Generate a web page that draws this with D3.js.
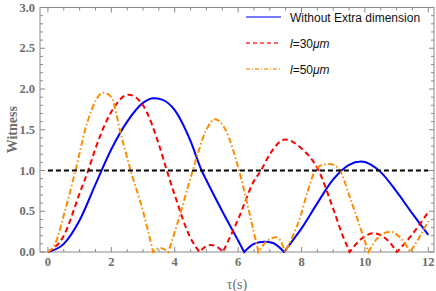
<!DOCTYPE html>
<html lang="en">
<head>
    <meta charset="UTF-8">
    <title>witness</title>
    <script src="https://cdn.jsdelivr.net/npm/d3@7"></script>
    <style>
        body { margin: 0; background: #fff; }
        svg { display: block; }
        .frame { fill: none; stroke: #8a8a8a; stroke-width: 1px; }
        .tick-mark { stroke: #8a8a8a; stroke-width: 1px; }
        .tick-label { font-family: "Liberation Serif", serif; font-weight: bold; font-size: 12.5px; fill: #6e6e6e; }
        .axis-title { font-family: "Liberation Serif", serif; fill: #6e6e6e; }
        .legend-text { font-family: "Liberation Sans", Arial, sans-serif; font-size: 12px; fill: #111; }
    </style>
</head>
<body>
<svg width="436" height="291"></svg>
<script>

    // witness vs tau as [tau, witness], split at the zeros
    var noExtra = [
        [[0, 0], [0.5, 0.10], [1, 0.39], [1.5, 0.83], [2, 1.26], [2.5, 1.6], [3, 1.83], [3.33, 1.886], [3.6, 1.87], [4, 1.74], [4.5, 1.36], [4.85, 1.0], [5, 0.88], [5.5, 0.5], [6, 0.14], [6.19, 0]],
        [[6.19, 0], [6.5, 0.1], [6.83, 0.127], [7.1, 0.11], [7.45, 0]],
        [[7.45, 0], [7.7, 0.13], [8, 0.29], [8.5, 0.6], [9, 0.89], [9.5, 1.07], [9.88, 1.11], [10.2, 1.07], [10.5, 0.98], [11, 0.74], [11.5, 0.47], [12, 0.21]]
    ];

    var l30 = [
        [[0, 0], [0.5, 0.2], [1, 0.72], [1.27, 1.0], [1.5, 1.27], [2, 1.72], [2.54, 1.93], [3, 1.80], [3.5, 1.32], [3.75, 1.0], [4, 0.7], [4.5, 0.17], [4.78, 0]],
        [[4.78, 0], [4.95, 0.06], [5.14, 0.085], [5.35, 0.06], [5.52, 0]],
        [[5.52, 0], [6, 0.4], [6.5, 0.87], [6.72, 1.0], [7, 1.2], [7.48, 1.38], [8, 1.27], [8.54, 1.0], [9, 0.53], [9.3, 0.2], [9.52, 0]],
        [[9.52, 0], [9.8, 0.13], [10.29, 0.23], [10.7, 0.15], [11.01, 0]],
        [[11.01, 0], [11.5, 0.22], [12, 0.49]]
    ];

    var l50 = [
        [[0, 0], [0.25, 0.12], [0.5, 0.45], [0.87, 1.0], [1.25, 1.6], [1.75, 1.955], [2, 1.9], [2.3, 1.45], [2.61, 1.0], [3, 0.5], [3.32, 0]],
        [[3.32, 0], [3.55, 0.05], [3.8, 0]],
        [[3.8, 0], [4.1, 0.37], [4.57, 1.0], [5, 1.5], [5.27, 1.63], [5.6, 1.5], [6.03, 1.0], [6.35, 0.49], [6.64, 0]],
        [[6.64, 0], [6.9, 0.13], [7.22, 0.18], [7.35, 0.13], [7.48, 0]],
        [[7.48, 0], [7.96, 0.43], [8.2, 0.75], [8.43, 1.0], [8.6, 1.06], [8.88, 1.08], [9.05, 1.06], [9.22, 1.0], [9.5, 0.7], [10.11, 0]],
        [[10.11, 0], [10.4, 0.17], [10.8, 0.25], [11.1, 0.18], [11.43, 0]],
        [[11.43, 0], [11.7, 0.17], [12, 0.38]]
    ];

    var threshold = 1.0;

    var xTicks = [0, 2, 4, 6, 8, 10, 12];
    var yTicks = [0.0, 0.5, 1.0, 1.5, 2.0, 2.5, 3.0];
    var legendLabels = ['Without Extra dimension', 'l=30μm', 'l=50μm'];

    var svg = d3.select('svg');

    var padL = 40, padR = 434, padT = 7.5, padB = 252;

    var x = d3.scaleLinear()
        .domain([-0.25, 12.18])
        .range([padL, padR]);

    var y = d3.scaleLinear()
        .domain([0, 3])
        .range([padB, padT]);

    // frame with ticks on all four sides
    var frame = svg.append('g');

    var xMinor = d3.range(0, 12.01, 0.5).filter(function (v) { return v % 2 !== 0; });
    var yMinor = d3.range(0, 3.001, 0.1).filter(function (v) { return Math.abs(v * 2 - Math.round(v * 2)) > 1e-6; });

    function xTick(v, len) {
        frame.append('line').attr('class', 'tick-mark')
            .attr('x1', x(v)).attr('x2', x(v)).attr('y1', padB).attr('y2', padB - len);
        frame.append('line').attr('class', 'tick-mark')
            .attr('x1', x(v)).attr('x2', x(v)).attr('y1', padT).attr('y2', padT + len);
    }

    function yTick(v, len) {
        frame.append('line').attr('class', 'tick-mark')
            .attr('x1', padL).attr('x2', padL + len).attr('y1', y(v)).attr('y2', y(v));
        frame.append('line').attr('class', 'tick-mark')
            .attr('x1', padR).attr('x2', padR - len).attr('y1', y(v)).attr('y2', y(v));
    }

    xTicks.forEach(function (v) { xTick(v, 5); });
    xMinor.forEach(function (v) { xTick(v, 3); });
    yTicks.forEach(function (v) { yTick(v, 5); });
    yMinor.forEach(function (v) { yTick(v, 3); });

    frame.append('rect').attr('class', 'frame')
        .attr('x', padL).attr('y', padT)
        .attr('width', padR - padL).attr('height', padB - padT);

    svg.selectAll('.x-label')
        .data(xTicks)
        .enter()
        .append('text')
        .attr('class', 'tick-label')
        .attr('x', function (d) { return x(d); })
        .attr('y', padB + 14)
        .attr('text-anchor', 'middle')
        .text(function (d) { return d; });

    svg.selectAll('.y-label')
        .data(yTicks)
        .enter()
        .append('text')
        .attr('class', 'tick-label')
        .attr('x', padL - 5)
        .attr('y', function (d) { return y(d) + 4; })
        .attr('text-anchor', 'end')
        .text(function (d) { return d.toFixed(1); });

    svg.append('text')
        .attr('class', 'axis-title')
        .attr('transform', 'translate(17,' + ((padT + padB) / 2) + ') rotate(-90)')
        .attr('text-anchor', 'middle')
        .style('font-weight', 'bold')
        .style('font-size', '14px')
        .text('Witness');

    svg.append('text')
        .attr('class', 'axis-title')
        .attr('x', (padL + padR) / 2)
        .attr('y', 289)
        .attr('text-anchor', 'middle')
        .style('font-size', '14px')
        .text('τ(s)');

    // curves: each piece drawn with a smooth curve, joined into one path so dashes continue
    var line = d3.line()
        .x(function (d) { return x(d[0]); })
        .y(function (d) { return y(d[1]); })
        .curve(d3.curveMonotoneX);

    function joined(pieces) {
        return pieces.map(function (p, i) {
            var d = line(p);
            return i === 0 ? d : d.replace(/^M[^A-Za-z]*/, '');
        }).join('');
    }

    var plot = svg.append('g');

    plot.append('path')
        .attr('d', joined(noExtra))
        .attr('fill', 'none')
        .attr('stroke', '#0000ff')
        .attr('stroke-width', 2);

    plot.append('path')
        .attr('d', joined(l30))
        .attr('fill', 'none')
        .attr('stroke', '#ff0000')
        .attr('stroke-width', 2)
        .attr('stroke-dasharray', '5.5,3.5');

    plot.append('path')
        .attr('d', joined(l50))
        .attr('fill', 'none')
        .attr('stroke', '#ff8c00')
        .attr('stroke-width', 2)
        .attr('stroke-dasharray', '6,2.5,1.5,2.5');

    plot.append('line')
        .attr('x1', x(0)).attr('x2', x(12))
        .attr('y1', y(threshold)).attr('y2', y(threshold))
        .attr('stroke', '#000')
        .attr('stroke-width', 2)
        .attr('stroke-dasharray', '5,3');

    // legend
    var legendColors = ['#4d4dff', '#ff3030', '#ffa040'];
    var legendDashes = ['none', '4,3', '4,2,1,2'];
    var legend = svg.append('g');
    var rowsY = [17, 43, 69];

    legendLabels.forEach(function (label, i) {
        legend.append('line')
            .attr('x1', 246).attr('x2', 281)
            .attr('y1', rowsY[i]).attr('y2', rowsY[i])
            .style('stroke', legendColors[i])
            .style('stroke-width', 1.4)
            .style('stroke-dasharray', legendDashes[i]);

        var t = legend.append('text')
            .attr('class', 'legend-text')
            .attr('x', 290)
            .attr('y', rowsY[i] + 4.5);
        if (i === 0) {
            t.text(label);
        } else {
            t.append('tspan').style('font-style', 'italic').text('l');
            t.append('tspan').text(label.slice(1, 4));
            t.append('tspan').style('font-style', 'italic').text('μm');
        }
    });

</script>
</body>
</html>
